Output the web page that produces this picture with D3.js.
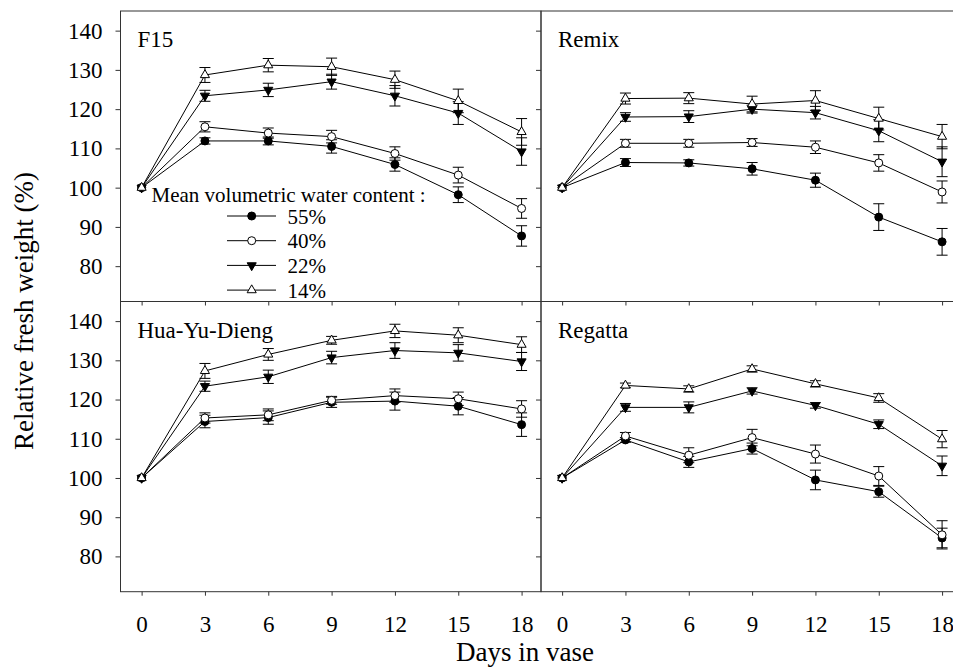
<!DOCTYPE html>
<html>
<head>
<meta charset="utf-8">
<script src="https://cdn.jsdelivr.net/npm/d3@7"></script>
<style>
  body { margin: 0; background: #fff; }
</style>
</head>
<body>
<svg id="chart" width="953" height="667"></svg>
<script>

// values (relative fresh weight, %), rows = 55%, 40%, 22%, 14%
var days = [0, 3, 6, 9, 12, 15, 18];
var levels = ["55%", "40%", "22%", "14%"];
var yTicks = [80, 90, 100, 110, 120, 130, 140];
var panelNames = ["F15", "Remix", "Hua-Yu-Dieng", "Regatta"];

var f15Means = [
	[100, 111.9, 111.9, 110.5, 105.9, 98.2, 87.7],
	[100, 115.5, 113.9, 113.0, 108.7, 103.2, 94.7],
	[100, 123.4, 124.9, 127.0, 123.4, 119.0, 109.2],
	[100, 128.7, 131.2, 130.8, 127.5, 122.1, 114.2]
];
var f15Errors = [
	[0, 0.8, 1.0, 1.7, 1.7, 2.0, 2.6],
	[0, 1.3, 1.3, 1.6, 1.7, 2.0, 2.5],
	[0, 1.4, 1.7, 1.9, 2.6, 2.9, 3.5],
	[0, 1.9, 1.7, 2.2, 2.2, 3.0, 3.4]
];
var remixMeans = [
	[100, 106.4, 106.3, 104.8, 101.9, 92.5, 86.2],
	[100, 111.3, 111.3, 111.5, 110.3, 106.3, 98.9],
	[100, 118.0, 118.1, 120.0, 119.1, 114.5, 106.6],
	[100, 122.7, 122.8, 121.3, 122.2, 117.6, 113.0]
];
var remixErrors = [
	[0, 1.0, 0.8, 1.6, 1.8, 3.4, 3.4],
	[0, 1.0, 1.0, 1.0, 1.6, 2.1, 2.8],
	[0, 1.1, 1.5, 1.0, 1.6, 2.8, 3.8],
	[0, 1.4, 1.4, 2.0, 2.5, 2.9, 3.1]
];
var huaMeans = [
	[100, 114.4, 115.4, 119.3, 119.6, 118.3, 113.6],
	[100, 115.3, 116.1, 119.8, 121.0, 120.2, 117.6],
	[100, 123.4, 125.8, 130.7, 132.5, 131.9, 129.7],
	[100, 127.3, 131.5, 135.1, 137.5, 136.4, 134.0]
];
var huaErrors = [
	[0, 1.6, 1.7, 1.3, 2.3, 2.2, 3.0],
	[0, 1.3, 1.5, 1.0, 1.7, 1.7, 2.1],
	[0, 1.3, 1.7, 1.6, 2.0, 2.1, 2.3],
	[0, 1.9, 1.5, 1.0, 1.7, 1.9, 2.0]
];
var regattaMeans = [
	[100, 109.7, 104.1, 107.5, 99.5, 96.5, 84.7],
	[100, 110.7, 105.8, 110.3, 106.1, 100.5, 85.5],
	[100, 118.0, 118.0, 122.2, 118.5, 113.7, 103.1],
	[100, 123.6, 122.7, 127.8, 124.0, 120.4, 109.9]
];
var regattaErrors = [
	[0, 0.6, 1.4, 1.4, 2.5, 1.4, 2.5],
	[0, 0.9, 1.9, 2.1, 2.3, 2.4, 3.6],
	[0, 1.0, 1.4, 0.8, 0.7, 1.1, 2.5],
	[0, 0.6, 0.8, 0.8, 0.8, 1.1, 2.2]
];

var FONT = "'Liberation Serif', 'Times New Roman', Times, 'DejaVu Serif', serif";

var svg = d3.select("#chart");

var colLeft = [120.5, 541], colRight = [541, 961.5],
	rowTop = [301.5, 11], rowBottom = [591.7, 301.5];

var panels = [
	{name: panelNames[0], means: f15Means, errs: f15Errors, xr: colLeft, yr: rowTop, labelX: false, labelY: true},
	{name: panelNames[1], means: remixMeans, errs: remixErrors, xr: colRight, yr: rowTop, labelX: false, labelY: false},
	{name: panelNames[2], means: huaMeans, errs: huaErrors, xr: colLeft, yr: rowBottom, labelX: true, labelY: true},
	{name: panelNames[3], means: regattaMeans, errs: regattaErrors, xr: colRight, yr: rowBottom, labelX: true, labelY: false}
];

function addText(parent, size) {
	return parent.append("text")
		.attr("font-family", FONT)
		.style("font-family", FONT)
		.style("font-size", size + "px")
		.style("fill", "#000");
}

function symbolFor(i, g) {
	// 0 filled circle, 1 open circle, 2 filled down triangle, 3 open up triangle
	if (i < 2) {
		return g.append("circle").attr("r", 4)
			.style("fill", i == 0 ? "#000" : "#fff").style("stroke", "#000").style("stroke-width", 1);
	}
	return g.append("path")
		.attr("d", d3.symbol().type(d3.symbolTriangle).size(36)())
		.attr("transform", i == 2 ? "rotate(180)" : null)
		.style("fill", i == 2 ? "#000" : "#fff").style("stroke", "#000").style("stroke-width", 1);
}

function drawPanel(p) {
	var x = d3.scaleLinear().domain([-1, 18.92]).range(p.xr),
		y = d3.scaleLinear().domain([71, 145]).range(p.yr);
	var g = svg.append("g");

	g.append("rect")
		.attr("x", p.xr[0]).attr("y", p.yr[1])
		.attr("width", p.xr[1] - p.xr[0]).attr("height", p.yr[0] - p.yr[1])
		.style("fill", "none").style("stroke", "#333").style("stroke-width", 1);

	var yAxis = g.append("g")
		.attr("transform", "translate(" + p.xr[0] + ",0)")
		.call(d3.axisLeft(y).tickValues(yTicks).tickSize(5).tickPadding(13)
			.tickFormat(p.labelY ? d3.format("d") : ""));
	yAxis.attr("font-family", FONT);
	yAxis.select(".domain").remove();
	yAxis.selectAll(".tick text").style("font-size", "23px").style("font-family", FONT).style("fill", "#000");

	var xAxis = g.append("g")
		.attr("transform", "translate(0," + p.yr[0] + ")")
		.call(d3.axisBottom(x).tickValues(days).tickSize(4)
			.tickFormat(p.labelX ? d3.format("d") : ""));
	xAxis.attr("font-family", FONT);
	xAxis.select(".domain").remove();
	xAxis.selectAll(".tick text").attr("y", 40).attr("dy", 0)
		.style("font-size", "23px").style("font-family", FONT).style("fill", "#000");
	g.selectAll(".tick line").style("stroke", "#333");

	addText(g, 23)
		.attr("x", p.xr[0] + 17).attr("y", p.yr[1] + 36)
		.text(p.name);

	var line = d3.line()
		.x(function(d, i) { return x(days[i]); })
		.y(function(d) { return y(d); });

	p.means.forEach(function(series, s) {
		g.append("path").datum(series)
			.attr("d", line)
			.style("fill", "none").style("stroke", "#000").style("stroke-width", 1);

		series.forEach(function(v, i) {
			var e = p.errs[s][i];
			if (!e) return;
			var cx = x(days[i]);
			g.append("path")
				.attr("d", "M" + (cx - 5.5) + "," + y(v + e) + "H" + (cx + 5.5) +
					"M" + cx + "," + y(v + e) + "V" + y(v - e) +
					"M" + (cx - 5.5) + "," + y(v - e) + "H" + (cx + 5.5))
				.style("fill", "none").style("stroke", "#000").style("stroke-width", 1);
		});
	});

	p.means.forEach(function(series, s) {
		series.forEach(function(v, i) {
			var m = g.append("g").attr("transform", "translate(" + x(days[i]) + "," + y(v) + ")");
			symbolFor(s, m);
		});
	});
}

panels.forEach(drawPanel);

// legend inside the F15 panel
var legend = svg.append("g");
addText(legend, 21)
	.attr("x", 151.5).attr("y", 201.5)
	.text("Mean volumetric water content :");

levels.forEach(function(lab, i) {
	var ly = 216 + i * 24.7;
	legend.append("line")
		.attr("x1", 227).attr("x2", 276).attr("y1", ly).attr("y2", ly)
		.style("stroke", "#000").style("stroke-width", 1);
	symbolFor(i, legend.append("g").attr("transform", "translate(251.7," + ly + ")"));
	addText(legend, 21)
		.attr("x", 287.5).attr("y", ly + 7.5)
		.text(lab);
});

// axis titles
addText(svg, 27)
	.attr("transform", "translate(33,311) rotate(-90)")
	.attr("text-anchor", "middle")
	.text("Relative fresh weight (%)");

addText(svg, 27)
	.attr("x", 525).attr("y", 661)
	.attr("text-anchor", "middle")
	.text("Days in vase");

</script>
</body>
</html>
